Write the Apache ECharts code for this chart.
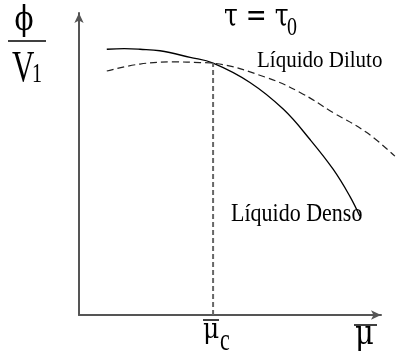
<!DOCTYPE html>
<html>
<head>
<meta charset="utf-8">
<script src="https://cdn.jsdelivr.net/npm/echarts@6/dist/echarts.min.js"></script>
<style>
  html, body { margin: 0; padding: 0; background: #fff; }
  #chart { width: 396px; height: 358px; }
</style>
</head>
<body>
<div id="chart"></div>
<script>
// Dense liquid branch (solid curve)
const densoMu  = [0.92, 1.50, 2.02, 2.68, 3.68, 4.44, 5.66, 6.77, 7.65, 8.42, 8.97, 9.30];
const densoPhi = [8.80, 8.82, 8.80, 8.75, 8.53, 8.34, 7.70, 6.81, 5.81, 4.82, 3.93, 3.27];
// Dilute liquid branch (dashed curve), runs past the end of the mu axis
const dilutoMu  = [0.92, 2.02, 3.12, 4.01, 4.44, 6.22, 7.32, 8.42, 9.53, 10.46];
const dilutoPhi = [8.08, 8.31, 8.38, 8.36, 8.34, 7.86, 7.37, 6.70, 6.04, 5.26];
// Crossing point of the two branches
const muC = 4.44;
const phiC = 8.34;

const serif = '"Liberation Serif", "DejaVu Serif", serif';
const greek = '"DejaVu Serif", serif';
const pairs = (xs, ys) => xs.map((x, i) => [x, ys[i]]);

const chart = echarts.init(document.getElementById('chart'), null, { renderer: 'canvas' });

// Plot area: the arrowed axes span x 79..381 and y 315..13 for 0..10.
const LEFT = 79, RIGHT = 15, TOP = 13, BOTTOM = 43;
const unitPx = (396 - LEFT - RIGHT) / 10;
// A second, wider grid with the same scale lets the dashed branch run past the arrow.
const wideMax = (396 - LEFT) / unitPx;

const axisLine = {
  show: true,
  symbol: ['none', 'arrow'],
  symbolSize: [7, 10],
  lineStyle: { color: '#555', width: 2 }
};
const hidden = {
  axisLine: { show: false }, axisTick: { show: false },
  axisLabel: { show: false }, splitLine: { show: false }
};

function label(text, x, y, size, sy, align, family) {
  return {
    type: 'text', x: x, y: y, scaleY: sy || 1,
    style: { x: 0, y: 0, text: text, font: size + 'px ' + (family || serif), fill: '#000',
             align: align || 'left', verticalAlign: 'middle' }
  };
}
function bar(x1, x2, y) {
  return { type: 'line', shape: { x1: x1, y1: y, x2: x2, y2: y },
           style: { stroke: '#000', lineWidth: 1.5 } };
}

chart.setOption({
  animation: false,
  backgroundColor: '#fff',
  grid: [
    { left: LEFT, right: RIGHT, top: TOP, bottom: BOTTOM },
    { left: LEFT, right: 0, top: TOP, bottom: BOTTOM }
  ],
  xAxis: [
    Object.assign({ type: 'value', min: 0, max: 10, gridIndex: 0 }, hidden, { axisLine: axisLine }),
    Object.assign({ type: 'value', min: 0, max: wideMax, gridIndex: 1 }, hidden)
  ],
  yAxis: [
    Object.assign({ type: 'value', min: 0, max: 10, gridIndex: 0 }, hidden, { axisLine: axisLine }),
    Object.assign({ type: 'value', min: 0, max: 10, gridIndex: 1 }, hidden)
  ],
  series: [
    {
      type: 'line', name: 'Líquido Denso', data: pairs(densoMu, densoPhi),
      xAxisIndex: 0, yAxisIndex: 0,
      smooth: 0.4, symbol: 'none', clip: false,
      lineStyle: { color: '#000', width: 1.3 }
    },
    {
      type: 'line', name: 'Líquido Diluto', data: pairs(dilutoMu, dilutoPhi),
      xAxisIndex: 1, yAxisIndex: 1,
      smooth: 0.4, symbol: 'none', clip: false,
      lineStyle: { color: '#222', width: 1.2, type: [7, 4] }
    },
    {
      type: 'line', name: 'mu_c', data: [[muC, 0], [muC, phiC]],
      xAxisIndex: 0, yAxisIndex: 0,
      symbol: 'none', clip: false,
      lineStyle: { color: '#666', width: 2, type: [5, 3] }
    }
  ],
  graphic: [
    label('ϕ', 24, 21, 28, 1.2, 'center', greek),
    bar(8, 46, 41),
    label('V', 12, 69, 31, 1.45),
    label('1', 32, 75, 20, 1.33),
    label('τ = τ', 224, 18, 25, 1.3, 'left', greek),
    label('0', 287, 28, 20, 1.3),
    label('Líquido Diluto', 257, 61, 21, 1.1),
    label('Líquido Denso', 231, 215, 22, 1.1),
    bar(203, 219, 320),
    label('μ', 203, 331, 25, 1.15, 'left', greek),
    label('c', 220, 342, 22, 1.4),
    bar(354, 377, 325),
    label('μ', 355, 335, 29, 1.15, 'left', greek)
  ]
});
</script>
</body>
</html>
